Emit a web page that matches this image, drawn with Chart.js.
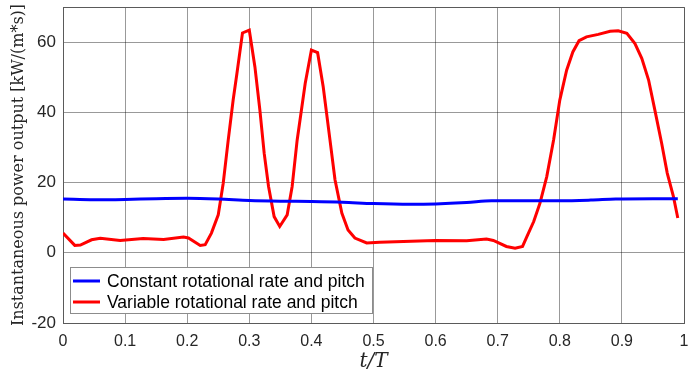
<!DOCTYPE html>
<html><head><meta charset="utf-8">
<script src="https://cdn.jsdelivr.net/npm/chart.js@4.4.1/dist/chart.umd.min.js"></script>
<style>html,body{margin:0;padding:0;background:#fff}#wrap{width:690px;height:377px}</style>
</head><body><div id="wrap"><canvas id="c" width="690" height="377"></canvas></div>
<script>
const seriesLabels = ["Constant rotational rate and pitch", "Variable rotational rate and pitch"];
const constT = [0, 0.05, 0.1, 0.15, 0.2, 0.25, 0.3, 0.35, 0.4, 0.45, 0.5, 0.56, 0.6, 0.65, 0.69, 0.75, 0.8, 0.85, 0.89, 0.95, 0.99];
const constP = [15.3, 15.1, 15.2, 15.4, 15.5, 15.3, 14.9, 14.7, 14.6, 14.4, 14.0, 13.8, 13.9, 14.3, 14.8, 14.8, 14.8, 15.0, 15.3, 15.4, 15.4];
const varT = [0, 0.019, 0.028, 0.046, 0.06, 0.092, 0.129, 0.162, 0.194, 0.202, 0.221, 0.229, 0.239, 0.25, 0.258, 0.266, 0.274, 0.28, 0.289, 0.3, 0.309, 0.317, 0.324, 0.331, 0.34, 0.349, 0.361, 0.369, 0.377, 0.39, 0.4, 0.41, 0.419, 0.43, 0.438, 0.449, 0.459, 0.47, 0.489, 0.51, 0.599, 0.65, 0.682, 0.693, 0.714, 0.728, 0.74, 0.747, 0.758, 0.768, 0.779, 0.79, 0.8, 0.811, 0.821, 0.831, 0.843, 0.862, 0.881, 0.894, 0.908, 0.921, 0.932, 0.943, 0.953, 0.964, 0.973, 0.983, 0.99];
const varP = [5.6, 2.1, 2.2, 3.7, 4.1, 3.5, 4.1, 3.8, 4.5, 4.2, 2.1, 2.3, 5.6, 10.8, 19.8, 32, 43.5, 51, 62.6, 63.4, 53, 40.7, 28.3, 18.9, 10.3, 7.5, 10.8, 18.9, 32, 48.2, 57.7, 57, 47.3, 32, 20.8, 11.3, 6.5, 4.2, 2.8, 3.0, 3.5, 3.4, 3.9, 3.5, 1.8, 1.3, 1.8, 4.6, 8.9, 14.1, 21.7, 32.1, 43.5, 52, 57.2, 60.4, 61.5, 62.2, 63.1, 63.2, 62.5, 59.6, 55.4, 49.2, 40.7, 31.2, 22.7, 16, 9.9];
const xTicks = [0, 0.1, 0.2, 0.3, 0.4, 0.5, 0.6, 0.7, 0.8, 0.9, 1];
const yTicks = [-20, 0, 20, 40, 60];
const xTitle = "t/T";
const yTitle = "Instantaneous power output [kW/(m*s)]";

const colors = ['#0000ff', '#ff0000'];
const toXY = (t, p) => t.map((v, i) => ({x: v, y: p[i]}));
const gridCol = 'rgba(0,0,0,0.4)';

const boxLegend = {
  id: 'boxLegend',
  afterDraw(chart) {
    const ctx = chart.ctx, a = chart.chartArea;
    ctx.save();
    ctx.strokeStyle = '#5a5a5a'; ctx.lineWidth = 1;
    ctx.beginPath();
    ctx.moveTo(a.left, a.top + 0.5); ctx.lineTo(a.right + 0.5, a.top + 0.5); ctx.lineTo(a.right + 0.5, a.bottom);
    ctx.stroke();
    const x0 = a.left + 7, y0 = 267, w = 302, h = 46;
    ctx.fillStyle = '#fff'; ctx.fillRect(x0, y0, w, h);
    ctx.strokeStyle = '#8c8c8c'; ctx.strokeRect(x0 + 0.5, y0 + 0.5, w, h);
    ctx.font = '17.5px "Liberation Sans", Arial, sans-serif';
    ctx.textBaseline = 'middle';
    chart.data.datasets.forEach((ds, i) => {
      const yy = y0 + 14 + i * 21;
      ctx.strokeStyle = ds.borderColor; ctx.lineWidth = 3;
      ctx.beginPath(); ctx.moveTo(x0 + 3, yy); ctx.lineTo(x0 + 30, yy); ctx.stroke();
      ctx.fillStyle = '#000'; ctx.fillText(ds.label, x0 + 37, yy + 1);
    });
    ctx.restore();
  }
};

new Chart(document.getElementById('c'), {
  type: 'line',
  data: {
    datasets: [
      {label: seriesLabels[0], data: toXY(constT, constP), borderColor: colors[0], borderWidth: 3, pointRadius: 0, tension: 0.4, cubicInterpolationMode: 'monotone', fill: false},
      {label: seriesLabels[1], data: toXY(varT, varP), borderColor: colors[1], borderWidth: 3, pointRadius: 0, tension: 0, fill: false}
    ]
  },
  options: {
    responsive: false, animation: false,
    layout: {padding: {top: 7, right: 6, left: 0, bottom: 0}},
    plugins: {legend: {display: false}, tooltip: {enabled: false}},
    scales: {
      x: {
        type: 'linear', min: 0, max: 1,
        afterBuildTicks: s => { s.ticks = xTicks.map(v => ({value: v})); },
        afterFit: s => { s.height = 54; s.paddingLeft = 0; s.paddingRight = 0; },
        grid: {color: gridCol, lineWidth: 1, drawTicks: false},
        border: {color: '#5a5a5a'},
        ticks: {color: '#262626', font: {family: '"Liberation Sans", Arial, sans-serif', size: 16}, padding: 9, maxRotation: 0,
                callback: v => String(v)},
        title: {display: true, text: xTitle, color: '#262626', font: {family: '"DejaVu Serif", serif', size: 20, style: 'italic'}, padding: {top: 0, bottom: 3}}
      },
      y: {
        min: -20, max: 70,
        afterBuildTicks: s => { s.ticks = yTicks.map(v => ({value: v})); },
        afterFit: s => { s.width = 63; s.paddingTop = 0; s.paddingBottom = 0; },
        grid: {color: gridCol, lineWidth: 1, drawTicks: false},
        border: {color: '#5a5a5a'},
        ticks: {color: '#262626', font: {family: '"Liberation Sans", Arial, sans-serif', size: 17}, padding: 7},
        title: {display: true, text: yTitle, color: '#262626', font: {family: '"DejaVu Serif", serif', size: 16}, padding: {top: 9, bottom: 0}}
      }
    }
  },
  plugins: [boxLegend]
});
</script></body></html>
